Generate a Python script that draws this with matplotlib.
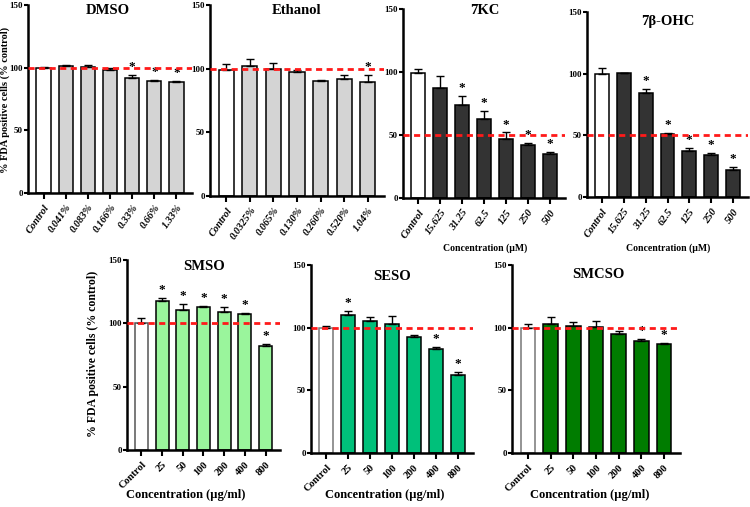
import numpy as np
import matplotlib
matplotlib.use("Agg")
import matplotlib.pyplot as plt

plt.rcParams['font.family'] = ['Liberation Serif', 'DejaVu Serif']
plt.rcParams['font.weight'] = 'bold'

W, H = 750, 507

# ---- data ----
dmso_labels = ['Control', '0.041%', '0.083%', '0.166%', '0.33%', '0.66%', '1.33%']
dmso_vals = [100, 101.3, 100.3, 98.5, 91.8, 89.2, 88.5]
dmso_err = [0.8, 0.8, 1.5, 1.2, 2.5, 0.8, 0.7]
dmso_star = [0, 0, 0, 0, 1, 1, 1]

eth_labels = ['Control', '0.0325%', '0.065%', '0.130%', '0.260%', '0.520%', '1.04%']
eth_vals = [99.2, 102.3, 99.7, 97.3, 90.4, 91.6, 89.5]
eth_err = [4.2, 5.5, 5.0, 1.6, 0.8, 3.5, 5.5]
eth_star = [0, 0, 0, 0, 0, 0, 1]

kc_labels = ['Control', '15.625', '31.25', '62.5', '125', '250', '500']
kc_vals = [99.0, 87.1, 74.2, 62.6, 46.7, 42.2, 35.1]
kc_err = [3.7, 9.9, 6.6, 6.8, 5.3, 1.4, 1.6]
kc_star = [0, 0, 1, 1, 1, 1, 1]

ohc_labels = ['Control', '15.625', '31.25', '62.5', '125', '250', '500']
ohc_vals = [99.8, 100.9, 84.6, 51.0, 37.4, 33.9, 22.2]
ohc_err = [5.2, 0.0, 2.7, 0.8, 2.7, 1.6, 2.2]
ohc_star = [0, 0, 1, 1, 1, 1, 1]

ext_labels = ['Control', '25', '50', '100', '200', '400', '800']
smso_vals = [100.0, 117.6, 110.5, 112.9, 108.7, 107.4, 82.1]
smso_err = [4.0, 2.1, 4.8, 0.8, 4.5, 1.0, 1.9]
smso_star = [0, 1, 1, 1, 1, 1, 1]

seso_vals = [99.9, 110.3, 105.5, 102.9, 92.5, 82.9, 62.4]
seso_err = [1.1, 3.2, 2.9, 6.6, 1.8, 1.8, 2.6]
seso_star = [0, 1, 0, 0, 0, 1, 1]

smcso_vals = [99.7, 102.9, 101.0, 100.5, 94.6, 89.0, 86.6]
smcso_err = [3.2, 5.3, 3.7, 4.7, 2.7, 1.9, 1.4]
smcso_star = [0, 0, 0, 0, 0, 1, 1]


def px_axes(fig, left, right, top, bottom):
    return fig.add_axes([left / W, 1 - bottom / H, (right - left) / W, (bottom - top) / H])


def panel(ax, labels, vals, err, stars, color, ref, italic=True, rot=55, ctrl_edge='black'):
    x = np.arange(len(vals))
    colors = ['white'] + [color] * (len(vals) - 1)
    edges = [ctrl_edge] + ['black'] * (len(vals) - 1)
    ax.bar(x, vals, width=0.64, color=colors, edgecolor=edges, linewidth=1.1, zorder=2)
    ax.errorbar(x, vals, yerr=[np.zeros(len(err)), err], fmt='none', ecolor='black',
                elinewidth=1.0, capsize=3, capthick=1.0, zorder=3)
    for xi, v, e, s in zip(x, vals, err, stars):
        if s:
            ax.text(xi, v + e + 1.5, '*', ha='center', va='bottom', fontsize=9.5,
                    fontweight='bold', zorder=4)
    ax.axhline(ref, color='#ff1a1a', linestyle=(0, (2.2, 1.6)), linewidth=2.0, zorder=5)
    ax.set_ylim(0, 150)
    ax.set_xlim(-0.7, len(vals) - 0.3)
    ax.set_yticks([0, 50, 100, 150])
    ax.set_xticks(x)
    ax.set_xticklabels(labels, rotation=rot, ha='right', rotation_mode='anchor',
                       fontsize=7.5, fontweight='bold',
                       fontstyle='italic' if italic else 'normal')
    ax.tick_params(axis='y', labelsize=6.5, width=1.5, length=3, pad=0.5)
    ax.tick_params(axis='x', width=1.5, length=4, pad=3)
    for lab in ax.get_yticklabels():
        lab.set_fontweight('bold')
    for sp in ['top', 'right']:
        ax.spines[sp].set_visible(False)
    for sp in ['left', 'bottom']:
        ax.spines[sp].set_linewidth(1.8)
    ax.patch.set_alpha(0)


def ftext(fig, x, y, s, **kw):
    fig.text(x / W, 1 - y / H, s, **kw)


fig = plt.figure(figsize=(7.5, 5.07), dpi=100)

ax1 = px_axes(fig, 28, 192, 5, 193)
panel(ax1, dmso_labels, dmso_vals, dmso_err, dmso_star, '#d4d4d4', 100)
ax2 = px_axes(fig, 210, 384, 5, 196)
panel(ax2, eth_labels, eth_vals, eth_err, eth_star, '#d4d4d4', 100)
ax3 = px_axes(fig, 403, 565, 9, 198)
panel(ax3, kc_labels, kc_vals, kc_err, kc_star, '#333333', 50)
ax4 = px_axes(fig, 587, 748, 12, 197)
panel(ax4, ohc_labels, ohc_vals, ohc_err, ohc_star, '#333333', 50)

ax5 = px_axes(fig, 127, 280, 260, 450)
panel(ax5, ext_labels, smso_vals, smso_err, smso_star, '#9af59c', 100, italic=False, rot=45,
      ctrl_edge='#555555')
ax6 = px_axes(fig, 311, 473, 265, 453)
panel(ax6, ext_labels, seso_vals, seso_err, seso_star, '#00c07a', 100, italic=False, rot=45,
      ctrl_edge='#777777')
ax7 = px_axes(fig, 512, 680, 265, 453)
panel(ax7, ext_labels, smcso_vals, smcso_err, smcso_star, '#007c00', 100, italic=False, rot=45,
      ctrl_edge='#777777')

# titles
tkw = dict(ha='center', va='center', fontsize=10.5, fontweight='bold')
ftext(fig, 108, 11, 'DMSO', **tkw)
ftext(fig, 297, 10, 'Ethanol', **tkw)
ftext(fig, 485, 11, '7KC', **tkw)
ftext(fig, 668, 21, '7β-OHC', **tkw)
ftext(fig, 204, 266, 'SMSO', **tkw)
ftext(fig, 392, 276, 'SESO', **tkw)
ftext(fig, 598, 274, 'SMCSO', **tkw)

# axis labels
ylab = '% FDA positive cells (% control)'
ftext(fig, 5, 100, ylab, rotation=90, ha='center', va='center', fontsize=7.5, fontweight='bold')
ftext(fig, 93, 354, ylab, rotation=90, ha='center', va='center', fontsize=8.5, fontweight='bold')
ftext(fig, 485, 248, 'Concentration (µM)', ha='center', va='center', fontsize=7, fontweight='bold')
ftext(fig, 668, 248, 'Concentration (µM)', ha='center', va='center', fontsize=7, fontweight='bold')
for cx in [186, 385, 590]:
    ftext(fig, cx, 495, 'Concentration (µg/ml)', ha='center', va='center', fontsize=9, fontweight='bold')

fig.savefig('out.png', dpi=100)
